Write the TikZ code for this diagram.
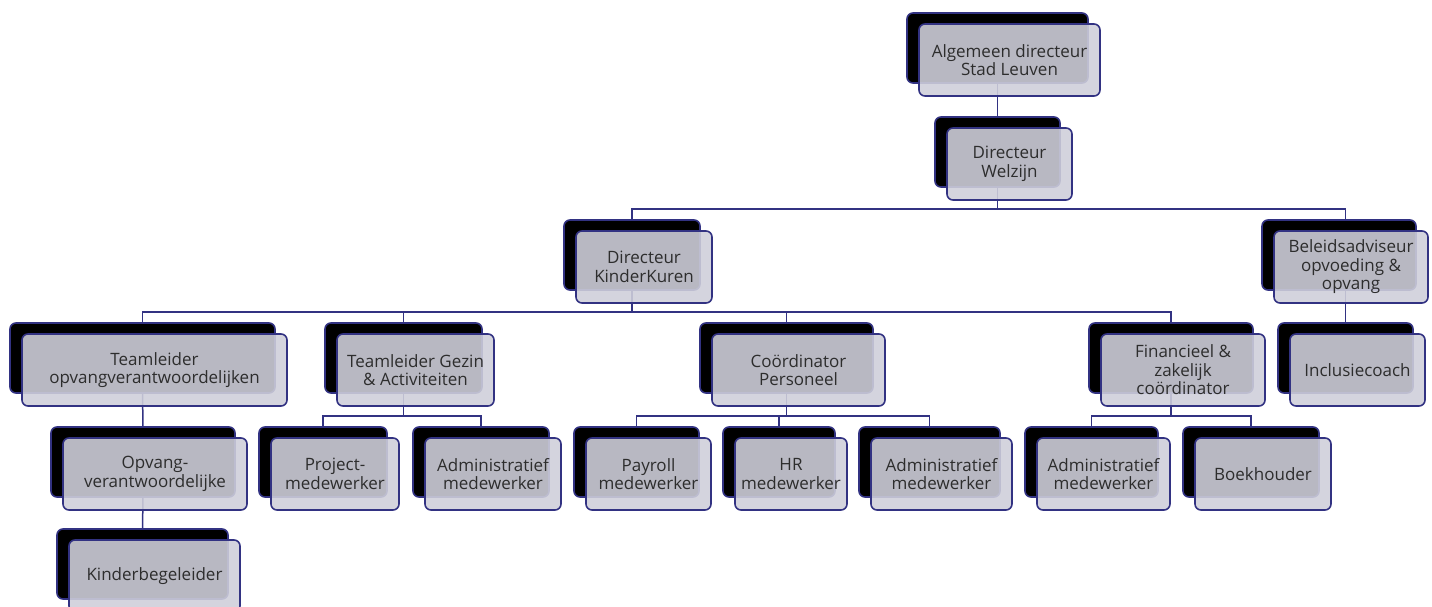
\documentclass[tikz,border=0pt]{standalone}
\usepackage{fontspec}
\setmainfont{Open Sans}
\usetikzlibrary{backgrounds}
\definecolor{navy}{RGB}{50,50,130}
\definecolor{boxfill}{RGB}{207,207,218}
\definecolor{txt}{RGB}{45,45,45}
\tikzset{
 backbox/.style={draw=navy, fill=black, line width=1.6pt, rounded corners=6pt, minimum height=70pt, inner sep=0pt},
 frontbox/.style={draw=navy, fill=boxfill, fill opacity=0.89, text opacity=1, line width=1.6pt, rounded corners=6pt, minimum height=72pt, inner sep=0pt, align=center, text=txt, font=\fontsize{17}{18.5}\selectfont},
 link/.style={draw=navy, line width=1.5pt},
}
\newcommand{\orgbox}[5]{%
 \node[backbox, minimum width=#4pt] (#1B) at (#2,#3) {};
 \node[frontbox, minimum width=#4pt] (#1) at (#2+12,#3+12) {#5};
}
\begin{document}
\begin{tikzpicture}[x=1pt,y=-1pt]
\useasboundingbox (0,0) rectangle (1432,607);
\orgbox{top}{997.5}{48}{181}{Algemeen directeur\\Stad Leuven}
\orgbox{welz}{997.5}{152}{125}{Directeur\\Welzijn}
\orgbox{kk}{632}{255}{136}{Directeur\\KinderKuren}
\orgbox{bel}{1339}{255}{154}{Beleidsadviseur\\opvoeding \&\\opvang}
\orgbox{to}{142.5}{358}{265}{Teamleider\\opvangverantwoordelijken}
\orgbox{tg}{403.5}{358}{157}{Teamleider Gezin\\\& Activiteiten}
\orgbox{cp}{786.5}{358}{173}{Coördinator\\Personeel}
\orgbox{fz}{1171}{358}{164}{Financieel \&\\zakelijk\\coördinator}
\orgbox{inc}{1345.5}{358}{135}{Inclusiecoach}
\orgbox{ov}{143}{462}{184}{Opvang-\\verantwoordelijke}
\orgbox{pm}{323}{462}{128}{Project-\\medewerker}
\orgbox{amA}{481}{462}{136}{Administratief\\medewerker}
\orgbox{pay}{636.5}{462}{125}{Payroll\\medewerker}
\orgbox{hr}{779}{462}{112}{HR\\medewerker}
\orgbox{amB}{929.5}{462}{141}{Administratief\\medewerker}
\orgbox{amC}{1091.5}{462}{133}{Administratief\\medewerker}
\orgbox{bk}{1251}{462}{136}{Boekhouder}
\orgbox{kb}{142.5}{564}{171}{Kinderbegeleider}
\begin{scope}[on background layer]
\draw[link] (topB.center) -- (welzB.center);
\draw[link] (welzB.center) -- ++(0,57) -| (kkB.center);
\draw[link] (welzB.center) -- ++(0,57) -| (incB.center |- belB.center);
\draw[link] (incB.center |- belB.center) -- (incB.center);
\foreach \c in {to,tg,cp,fz} \draw[link] (kkB.center) -- ++(0,57) -| (\c B.center);
\draw[link] (toB.center) -- (ovB.center);
\draw[link] (ovB.center) -- (kbB.center);
\foreach \c in {pm,amA} \draw[link] (tgB.center) -- ++(0,58) -| (\c B.center);
\foreach \c in {pay,hr,amB} \draw[link] (cpB.center) -- ++(0,58) -| (\c B.center);
\foreach \c in {amC,bk} \draw[link] (fzB.center) -- ++(0,58) -| (\c B.center);
\end{scope}
\end{tikzpicture}
\end{document}
